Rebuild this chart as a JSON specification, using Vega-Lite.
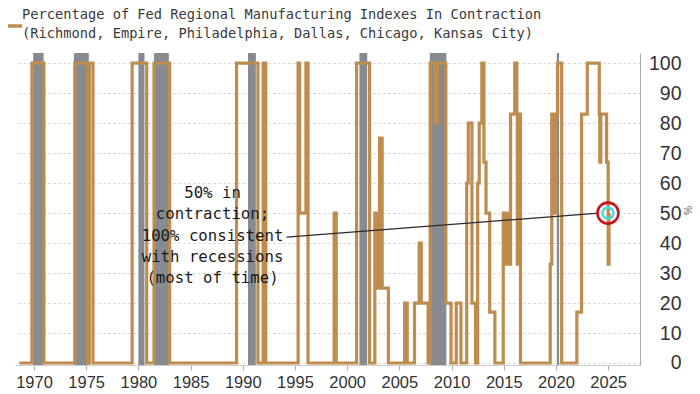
{
  "$schema": "https://vega.github.io/schema/vega-lite/v6.json",
  "width": 625,
  "height": 312,
  "autosize": {"type": "none"},
  "padding": {"left": 15, "top": 53, "right": 60, "bottom": 29},
  "background": "white",
  "title": {
    "text": ["Percentage of Fed Regional Manufacturing Indexes In Contraction", "(Richmond, Empire, Philadelphia, Dallas, Chicago, Kansas City)"],
    "anchor": "start",
    "frame": "group",
    "dx": 7,
    "dy": 38,
    "offset": 14,
    "font": "DejaVu Sans Mono",
    "fontSize": 13.7,
    "fontWeight": "normal",
    "color": "#3a3a3a",
    "lineHeight": 19.5
  },
  "config": {"view": {"stroke": null}},
  "datasets": {
    "recessions": [
      {"start": 1969.92, "end": 1970.92},
      {"start": 1973.83, "end": 1975.25},
      {"start": 1980.0, "end": 1980.58},
      {"start": 1981.5, "end": 1982.92},
      {"start": 1990.5, "end": 1991.25},
      {"start": 2001.17, "end": 2001.92},
      {"start": 2007.92, "end": 2009.5},
      {"start": 2020.08, "end": 2020.3}
    ],
    "series": [
      {"year": 1968.6, "value": 0},
      {"year": 1969.8, "value": 100},
      {"year": 1970.95, "value": 0},
      {"year": 1973.9, "value": 100},
      {"year": 1975.15, "value": 0},
      {"year": 1975.3, "value": 100},
      {"year": 1975.65, "value": 0},
      {"year": 1979.4, "value": 100},
      {"year": 1980.8, "value": 0},
      {"year": 1981.5, "value": 100},
      {"year": 1983.0, "value": 0},
      {"year": 1989.4, "value": 100},
      {"year": 1991.45, "value": 0},
      {"year": 1991.95, "value": 100},
      {"year": 1992.2, "value": 0},
      {"year": 1995.3, "value": 100},
      {"year": 1995.45, "value": 50},
      {"year": 1996.05, "value": 100},
      {"year": 1996.25, "value": 0},
      {"year": 1998.75, "value": 50},
      {"year": 1998.95, "value": 0},
      {"year": 2000.9, "value": 100},
      {"year": 2002.15, "value": 0},
      {"year": 2002.65, "value": 50},
      {"year": 2002.85, "value": 25},
      {"year": 2003.1, "value": 75},
      {"year": 2003.35, "value": 25},
      {"year": 2003.95, "value": 0},
      {"year": 2005.5, "value": 20},
      {"year": 2005.75, "value": 0},
      {"year": 2006.45, "value": 20},
      {"year": 2006.9, "value": 40},
      {"year": 2007.1, "value": 20},
      {"year": 2007.75, "value": 0},
      {"year": 2007.95, "value": 100},
      {"year": 2008.4, "value": 80},
      {"year": 2008.65, "value": 100},
      {"year": 2009.45, "value": 20},
      {"year": 2009.95, "value": 0},
      {"year": 2010.45, "value": 20},
      {"year": 2010.9, "value": 0},
      {"year": 2011.45, "value": 60},
      {"year": 2011.6, "value": 80},
      {"year": 2011.95, "value": 20},
      {"year": 2012.3, "value": 0},
      {"year": 2012.5, "value": 60},
      {"year": 2012.65, "value": 80},
      {"year": 2012.9, "value": 100},
      {"year": 2013.1, "value": 67},
      {"year": 2013.3, "value": 50},
      {"year": 2013.65, "value": 17},
      {"year": 2014.15, "value": 0},
      {"year": 2014.95, "value": 50},
      {"year": 2015.1, "value": 33},
      {"year": 2015.25, "value": 50},
      {"year": 2015.4, "value": 33},
      {"year": 2015.65, "value": 83},
      {"year": 2016.05, "value": 100},
      {"year": 2016.25, "value": 83},
      {"year": 2016.3, "value": 33},
      {"year": 2016.4, "value": 83},
      {"year": 2016.6, "value": 0},
      {"year": 2019.45, "value": 33},
      {"year": 2019.6, "value": 83},
      {"year": 2019.85, "value": 50},
      {"year": 2020.0, "value": 83},
      {"year": 2020.15, "value": 100},
      {"year": 2020.55, "value": 0},
      {"year": 2022.0, "value": 17},
      {"year": 2022.45, "value": 83},
      {"year": 2023.0, "value": 100},
      {"year": 2024.15, "value": 83},
      {"year": 2024.2, "value": 67},
      {"year": 2024.3, "value": 83},
      {"year": 2024.85, "value": 67},
      {"year": 2025.0, "value": 33},
      {"year": 2025.08, "value": 50},
      {"year": 2025.12, "value": 50}
    ],
    "connector": [
      {"x1": 1994.2, "y1": 42.0, "x2": 2024.1, "y2": 50}
    ],
    "note": [
      {"label": "50% in\ncontraction;\n100% consistent\nwith recessions\n(most of time)", "x": 1987.1, "y": 56.7}
    ],
    "highlight": [
      {"year": 2024.98, "value": 50}
    ]
  },
  "layer": [
    {
      "data": {"name": "recessions"},
      "mark": {"type": "rect", "color": "#878b90"},
      "encoding": {
        "x": {
          "field": "start",
          "type": "quantitative",
          "title": null,
          "scale": {"domain": [1968.18, 2028.05], "nice": false, "zero": false},
          "axis": {
            "values": [1970, 1975, 1980, 1985, 1990, 1995, 2000, 2005, 2010, 2015, 2020, 2025],
            "format": "d",
            "grid": false,
            "labelFont": "Liberation Sans",
            "labelFontSize": 16.5,
            "labelColor": "#333333",
            "labelPadding": 4,
            "labelOverlap": false,
            "tickSize": 5,
            "tickColor": "#aaaaaa",
            "domainColor": "#cccccc"
          }
        },
        "x2": {"field": "end"}
      }
    },
    {
      "data": {"name": "series"},
      "mark": {"type": "line", "interpolate": "step-after", "strokeWidth": 3.2},
      "encoding": {
        "x": {"field": "year", "type": "quantitative", "title": null},
        "y": {
          "field": "value",
          "type": "quantitative",
          "scale": {"domain": [-0.67, 103.4], "nice": false, "zero": false},
          "axis": {
            "title": "%",
            "orient": "right",
            "values": [0, 10, 20, 30, 40, 50, 60, 70, 80, 90, 100],
            "tickCount": 11,
            "labelOverlap": false,
            "grid": true,
            "gridDash": [2, 3],
            "gridColor": "#cccccc",
            "ticks": false,
            "tickSize": 0,
            "domain": true,
            "domainColor": "#aaaaaa",
            "labelAlign": "right",
            "labelPadding": 41,
            "labelFont": "Liberation Sans",
            "labelFontSize": 19.5,
            "labelColor": "#333333",
            "titleFont": "Liberation Sans",
            "titleFontSize": 10,
            "titleFontWeight": "normal",
            "titleColor": "#555555",
            "titleX": 46,
            "titleY": 157,
            "titleAngle": 90,
            "titleAlign": "center",
            "titleBaseline": "middle"
          }
        },
        "color": {
          "datum": "Percentage of Fed Regional Manufacturing Indexes In Contraction",
          "scale": {"range": ["#bd8c4e"]},
          "legend": {
            "orient": "none",
            "legendX": -9,
            "legendY": -36,
            "title": null,
            "labelExpr": "''",
            "symbolType": "stroke",
            "symbolStrokeWidth": 3.5,
            "symbolSize": 200,
            "padding": 0
          }
        }
      }
    },
    {
      "data": {"name": "connector"},
      "mark": {"type": "rule", "color": "#2a2a2a", "strokeWidth": 1.3},
      "encoding": {
        "x": {"field": "x1", "type": "quantitative"},
        "y": {"field": "y1", "type": "quantitative"},
        "x2": {"field": "x2"},
        "y2": {"field": "y2"}
      }
    },
    {
      "data": {"name": "note"},
      "mark": {
        "type": "text",
        "font": "DejaVu Sans Mono",
        "fontSize": 15.7,
        "lineHeight": 21.3,
        "lineBreak": "\n",
        "align": "center",
        "baseline": "middle",
        "color": "#1a1a1a"
      },
      "encoding": {
        "x": {"field": "x", "type": "quantitative"},
        "y": {"field": "y", "type": "quantitative"},
        "text": {"field": "label"}
      }
    },
    {
      "data": {"name": "highlight"},
      "mark": {"type": "point", "filled": false, "stroke": "#3fdfe0", "strokeWidth": 2.5, "size": 121, "opacity": 1},
      "encoding": {
        "x": {"field": "year", "type": "quantitative"},
        "y": {"field": "value", "type": "quantitative"}
      }
    },
    {
      "data": {"name": "highlight"},
      "mark": {"type": "point", "filled": false, "stroke": "#c4141f", "strokeWidth": 2.6, "size": 441, "opacity": 1},
      "encoding": {
        "x": {"field": "year", "type": "quantitative"},
        "y": {"field": "value", "type": "quantitative"}
      }
    }
  ]
}
